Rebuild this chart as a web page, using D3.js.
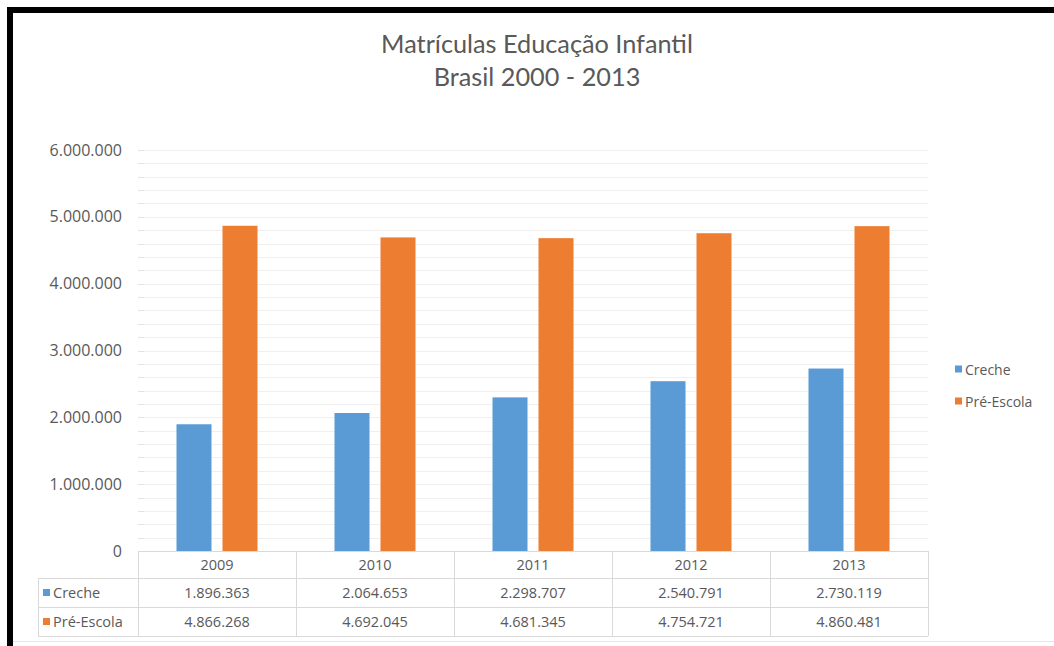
<!DOCTYPE html>
<html>
<head>
<meta charset="utf-8">
<script src="https://cdn.jsdelivr.net/npm/d3@7"></script>
<style>
  html, body { margin: 0; padding: 0; background: #fff; }
  svg { display: block; }
</style>
</head>
<body>
<svg id="chart" width="1054" height="646"></svg>
<script>
const titleLines = ["Matrículas Educação Infantil", "Brasil 2000 - 2013"];
const years = ["2009", "2010", "2011", "2012", "2013"];
const seriesNames = ["Creche", "Pré-Escola"];
const creche = [1896363, 2064653, 2298707, 2540791, 2730119];
const preEscola = [4866268, 4692045, 4681345, 4754721, 4860481];
const yTicks = [0, 1000000, 2000000, 3000000, 4000000, 5000000, 6000000];
const colors = ["#5B9BD5", "#ED7D31"];

const seriesValues = [creche, preEscola];
const fmt = v => d3.format(",")(v).replace(/,/g, ".");

const svg = d3.select("#chart");
const textColor = "#595959";
const font = "'Open Sans', 'DejaVu Sans', sans-serif";

svg.append("rect").attr("width", 1054).attr("height", 646).attr("fill", "#fff");

// plot geometry
const plotLeft = 138, plotRight = 928, plotTop = 150, plotBottom = 551;

const x0 = d3.scaleBand().domain(years).range([plotLeft, plotRight]).padding(0);
const x1 = d3.scaleBand().domain(seriesNames).range([38.5, 119.5]).paddingInner(0.239).paddingOuter(0);
const y = d3.scaleLinear().domain([0, 6000000]).range([plotBottom, plotTop]);

// minor + major gridlines
const minorTicks = d3.range(0, 6000001, 200000);
svg.append("g").selectAll("line").data(minorTicks.filter(v => v > 0)).join("line")
  .attr("x1", plotLeft + 6).attr("x2", plotRight)
  .attr("y1", d => Math.round(y(d)) + 0.5).attr("y2", d => Math.round(y(d)) + 0.5)
  .attr("stroke", "#efefef").attr("stroke-width", 1);
svg.append("g").selectAll("line").data(minorTicks.filter(v => v > 0)).join("line")
  .attr("x1", plotLeft).attr("x2", plotLeft + 6)
  .attr("y1", d => Math.round(y(d)) + 0.5).attr("y2", d => Math.round(y(d)) + 0.5)
  .attr("stroke", "#e2e2e2").attr("stroke-width", 1);

// y axis labels
const yAxis = d3.axisLeft(y).tickValues(yTicks).tickFormat(fmt).tickSize(0).tickPadding(0);
const yg = svg.append("g").attr("transform", `translate(122,0)`).call(yAxis);
yg.select(".domain").remove();
yg.selectAll("text").attr("fill", textColor).style("font-family", font).style("font-size", "16px");

// bars
const groups = svg.append("g").selectAll("g").data(years).join("g")
  .attr("transform", d => `translate(${x0(d)},0)`);
groups.selectAll("rect").data((d, i) => seriesNames.map((s, j) => ({ s, v: seriesValues[j][i], j })))
  .join("rect")
  .attr("x", d => x1(d.s))
  .attr("width", x1.bandwidth())
  .attr("y", d => y(d.v))
  .attr("height", d => y(0) - y(d.v))
  .attr("fill", d => colors[d.j]);

// data table
const tableLeft = 38;
const rowY = [551, 578, 607, 636];
const lineColor = "#d9d9d9";
const tg = svg.append("g");
tg.append("line").attr("x1", plotLeft).attr("x2", plotRight).attr("y1", rowY[0] + 0.5).attr("y2", rowY[0] + 0.5).attr("stroke", lineColor);
[1, 2, 3].forEach(k => {
  tg.append("line").attr("x1", tableLeft).attr("x2", plotRight).attr("y1", rowY[k] + 0.5).attr("y2", rowY[k] + 0.5).attr("stroke", lineColor);
});
const colEdges = years.map(d => x0(d)).concat([plotRight]);
tg.selectAll("line.v").data(colEdges).join("line").attr("class", "v")
  .attr("x1", d => Math.round(d) + 0.5).attr("x2", d => Math.round(d) + 0.5)
  .attr("y1", rowY[0]).attr("y2", rowY[3]).attr("stroke", lineColor);
tg.append("line").attr("x1", tableLeft + 0.5).attr("x2", tableLeft + 0.5)
  .attr("y1", rowY[1]).attr("y2", rowY[3]).attr("stroke", lineColor);

tg.selectAll("text.year").data(years).join("text").attr("class", "year")
  .attr("x", d => x0(d) + x0.bandwidth() / 2)
  .attr("y", (rowY[0] + rowY[1]) / 2)
  .attr("text-anchor", "middle").attr("dominant-baseline", "central")
  .attr("fill", textColor).style("font-family", font).style("font-size", "14.5px")
  .text(d => d);

seriesNames.forEach((s, j) => {
  const cy = (rowY[j + 1] + rowY[j + 2]) / 2;
  tg.append("rect").attr("x", 43).attr("y", cy - 3.5).attr("width", 7).attr("height", 7).attr("fill", colors[j]);
  tg.append("text").attr("x", 53).attr("y", cy)
    .attr("dominant-baseline", "central").attr("fill", textColor)
    .style("font-family", font).style("font-size", "14.5px").text(s);
  tg.selectAll(null).data(seriesValues[j]).join("text")
    .attr("x", (d, i) => x0(years[i]) + x0.bandwidth() / 2)
    .attr("y", cy)
    .attr("text-anchor", "middle").attr("dominant-baseline", "central")
    .attr("fill", textColor).style("font-family", font).style("font-size", "14.5px")
    .text(d => fmt(d));
});

// legend
const legendY = [369, 401];
seriesNames.forEach((s, j) => {
  svg.append("rect").attr("x", 955).attr("y", legendY[j] - 3.5).attr("width", 7).attr("height", 7).attr("fill", colors[j]);
  svg.append("text").attr("x", 965).attr("y", legendY[j])
    .attr("dominant-baseline", "central").attr("fill", textColor)
    .style("font-family", font).style("font-size", "14px").text(s);
});

// title: size chosen so the first line spans ~310px, second line same size
const titleBase = [53, 86];
const titleFont = "'Lato', 'Open Sans', sans-serif";
const probe = svg.append("text").style("font-family", titleFont).style("font-size", "26px").text(titleLines[0]);
const natural = probe.node().getComputedTextLength();
probe.remove();
const titleSize = 26 * 312 / natural;
titleLines.forEach((t, i) => {
  svg.append("text").attr("x", 537).attr("y", titleBase[i])
    .attr("text-anchor", "middle").attr("fill", textColor)
    .style("font-family", titleFont).style("font-size", titleSize + "px")
    .text(t);
});

// bottom chart border line
svg.append("line").attr("x1", 13).attr("x2", 1054).attr("y1", 641.5).attr("y2", 641.5).attr("stroke", "#e6e6e6");

// black frame (top and left)
svg.append("rect").attr("x", 7).attr("y", 7).attr("width", 1047).attr("height", 6).attr("fill", "#000");
svg.append("rect").attr("x", 7).attr("y", 7).attr("width", 6).attr("height", 639).attr("fill", "#000");
</script>
</body>
</html>
